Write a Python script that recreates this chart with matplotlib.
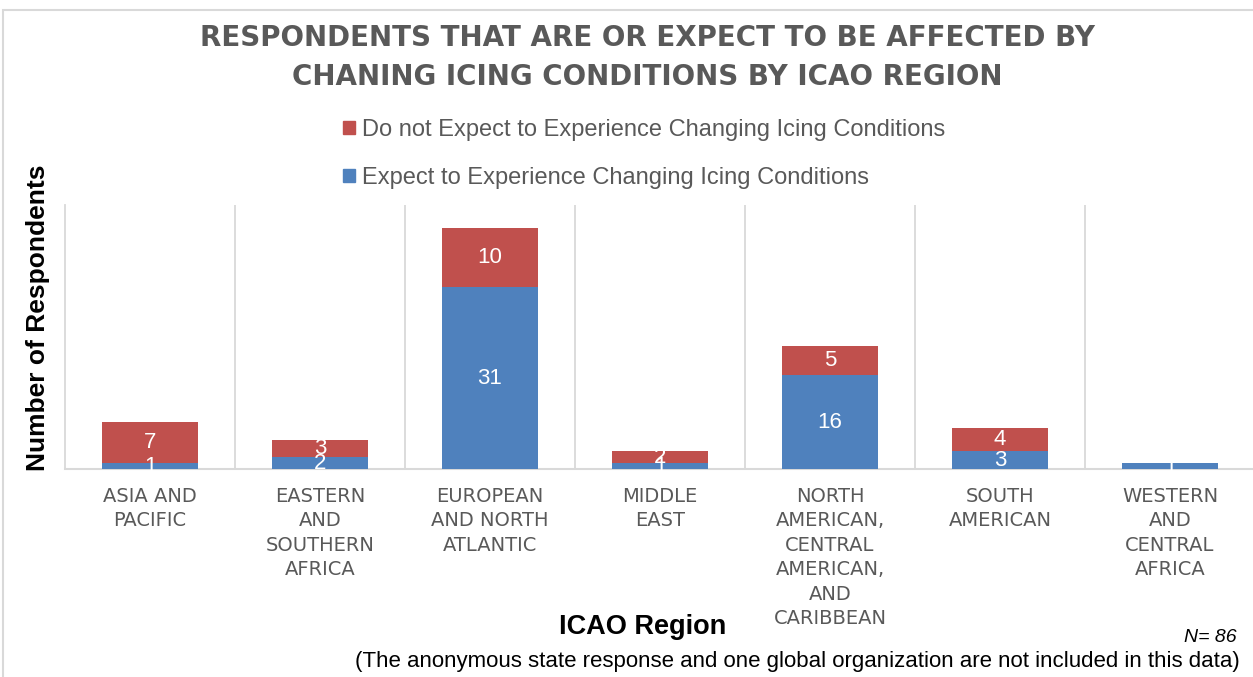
import matplotlib

matplotlib.use("Agg")
import matplotlib.pyplot as plt
from matplotlib.patches import Rectangle, Patch
import numpy as np

plt.rcParams["font.family"] = "Liberation Sans"

REGIONS: list[str] = [
    "ASIA AND\nPACIFIC",
    "EASTERN\nAND\nSOUTHERN\nAFRICA",
    "EUROPEAN\nAND NORTH\nATLANTIC",
    "MIDDLE\nEAST",
    "NORTH\nAMERICAN,\nCENTRAL\nAMERICAN,\nAND\nCARIBBEAN",
    "SOUTH\nAMERICAN",
    "WESTERN\nAND\nCENTRAL\nAFRICA",
]
EXPECT: list[int] = [1, 2, 31, 1, 16, 3, 1]
NOT_EXPECT: list[int] = [7, 3, 10, 2, 5, 4, 0]

COLOR_BLUE = "#4f81bd"
COLOR_RED = "#c0504d"
GRAY_TEXT = "#595959"
GRID = "#d9d9d9"

fig = plt.figure(figsize=(12.53, 6.77), dpi=100)
ax = fig.add_axes([65 / 1253, 1 - 469 / 677, 1190 / 1253, 264 / 677])

x = np.arange(len(REGIONS))
width = 0.56
bars_blue = ax.bar(x, EXPECT, width, color=COLOR_BLUE, zorder=3)
bars_red = ax.bar(x, NOT_EXPECT, width, bottom=EXPECT, color=COLOR_RED, zorder=3)

# white value labels inside segments (the zero segment shows nothing)
for rect, val in zip(bars_blue, EXPECT):
    ax.text(rect.get_x() + rect.get_width() / 2, rect.get_y() + rect.get_height() / 2,
            str(val), ha="center", va="center", color="white", fontsize=16, zorder=4)
for rect, val in zip(bars_red, NOT_EXPECT):
    if val == 0:
        continue
    ax.text(rect.get_x() + rect.get_width() / 2, rect.get_y() + rect.get_height() / 2,
            str(val), ha="center", va="center", color="white", fontsize=16, zorder=4)

ax.set_xlim(-0.5, len(REGIONS) - 0.5)
ax.set_ylim(0, 45)
for sep in np.arange(0.5, len(REGIONS) - 0.5, 1):
    ax.axvline(sep, color=GRID, lw=1.3, zorder=1)

for side in ["top", "right"]:
    ax.spines[side].set_visible(False)
ax.spines["left"].set_color(GRID)
ax.spines["left"].set_linewidth(1.3)
ax.spines["bottom"].set_color(GRID)
ax.spines["bottom"].set_linewidth(1.5)
ax.set_yticks([])
ax.set_xticks(x)
ax.set_xticklabels(REGIONS, fontsize=14, color=GRAY_TEXT, linespacing=1.36,
                   family="DejaVu Sans")
ax.tick_params(axis="x", length=0, pad=13)

fig.text(38 / 1253, 1 - 318 / 677, "Number of Respondents", rotation=90,
         ha="center", va="center", fontsize=19, fontweight="bold", color="black")
fig.text(643 / 1253, 1 - 627 / 677, "ICAO Region", ha="center", va="center",
         fontsize=19.5, fontweight="bold", color="black")
fig.text(1237 / 1253, 1 - 637 / 677, "N= 86", ha="right", va="center",
         fontsize=14, style="italic", color="black")
fig.text(797 / 1253, 1 - 661 / 677,
         "(The anonymous state response and one global organization are not included in this data)",
         ha="center", va="center", fontsize=16, color="black")

fig.text(647 / 1253, 1 - 38 / 677, "RESPONDENTS THAT ARE OR EXPECT TO BE AFFECTED BY",
         ha="center", va="center", fontsize=20, fontweight="bold", color=GRAY_TEXT,
         family="DejaVu Sans")
fig.text(647 / 1253, 1 - 77 / 677, "CHANING ICING CONDITIONS BY ICAO REGION",
         ha="center", va="center", fontsize=20, fontweight="bold", color=GRAY_TEXT,
         family="DejaVu Sans")

handles = [
    Patch(color=COLOR_RED, label="Do not Expect to Experience Changing Icing Conditions"),
    Patch(color=COLOR_BLUE, label="Expect to Experience Changing Icing Conditions"),
]
fig.legend(handles=handles, loc="upper left", bbox_to_anchor=(331 / 1253, 1 - 107 / 677),
           frameon=False, fontsize=17, handlelength=0.5, handleheight=0.5,
           handletextpad=0.3, labelspacing=1.1, labelcolor=GRAY_TEXT, borderpad=0)

# outer chart border
fig.patches.append(Rectangle((3 / 1253, -0.1), 1.2, 1.1 - 10 / 677, transform=fig.transFigure,
                             fill=False, edgecolor=GRID, lw=1.5))

fig.savefig("out.png", dpi=100)
